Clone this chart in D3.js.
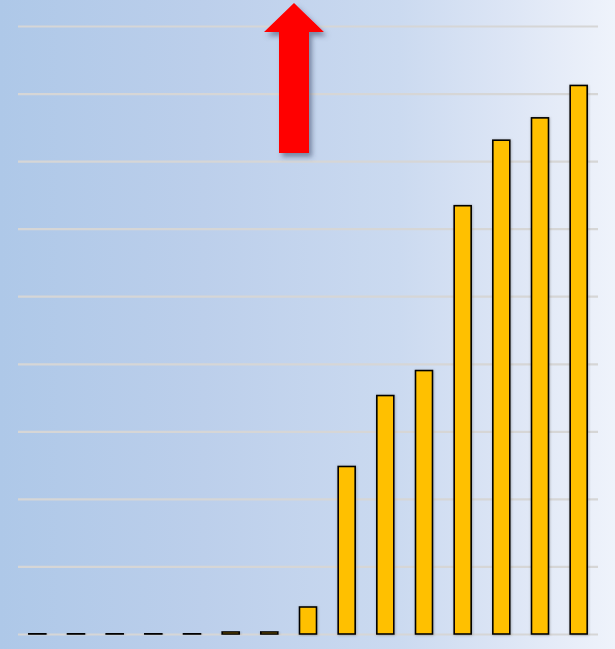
<!DOCTYPE html>
<html>
<head>
<meta charset="utf-8">
<script src="https://cdn.jsdelivr.net/npm/d3@7"></script>
<style>
html,body{margin:0;padding:0;overflow:hidden;}
svg{display:block;}
</style>
</head>
<body>
<script>
// Data (values in grid units; axis labels are hidden in the original)
const categories = ["1","2","3","4","5","6","7","8","9","10","11","12","13","14","15"];
const values = [0.01, 0.01, 0.01, 0.01, 0.01, 0.03, 0.03, 0.40, 2.48, 3.53, 3.90, 6.34, 7.31, 7.64, 8.12];
const yTicks = [0,1,2,3,4,5,6,7,8,9];

const W = 615, H = 649;
const svg = d3.select("body").append("svg").attr("width", W).attr("height", H);
const defs = svg.append("defs");

const bg = defs.append("linearGradient").attr("id","bg").attr("x1","0").attr("x2","1").attr("y1","0").attr("y2","0");
[[0,"#aec8e8"],[0.33,"#bccfeb"],[0.65,"#cbdaf0"],[0.82,"#dce5f5"],[1,"#eff3fb"]].forEach(s=>{
  bg.append("stop").attr("offset",s[0]).attr("stop-color",s[1]);
});
const sh = defs.append("filter").attr("id","shadow").attr("x","-30%").attr("y","-30%").attr("width","160%").attr("height","160%");
sh.append("feDropShadow").attr("dx",3).attr("dy",4).attr("stdDeviation",2.5).attr("flood-color","#3a4a66").attr("flood-opacity",0.55);
const bsh = defs.append("filter").attr("id","bshadow").attr("x","-30%").attr("y","-10%").attr("width","160%").attr("height","120%");
bsh.append("feDropShadow").attr("dx",0.5).attr("dy",0.5).attr("stdDeviation",0.8).attr("flood-color","#555").attr("flood-opacity",0.45);

svg.append("rect").attr("width",W).attr("height",H).attr("fill","url(#bg)");

const x = d3.scaleBand().domain(categories).range([18, 598]).paddingInner(0.56).paddingOuter(0.28);
const y = d3.scaleLinear().domain([0, 9]).range([634, 26]);

// gridlines
const yAxis = d3.axisLeft(y).tickValues(yTicks).tickSize(-(598-18)).tickFormat("");
const gAxis = svg.append("g").attr("transform","translate(18,0)").call(yAxis);
gAxis.select(".domain").remove();
gAxis.selectAll(".tick line").attr("stroke","#d6d6d6").attr("stroke-width",2.2);

// bars
svg.append("g").selectAll("rect").data(values).join("rect")
  .attr("x",(d,i)=>x(categories[i]))
  .attr("width",x.bandwidth())
  .attr("y",d=>y(d))
  .attr("height",d=>y(0)-y(d))
  .attr("fill","#ffc000")
  .attr("stroke","#000")
  .attr("stroke-width",1.6)
  .attr("filter","url(#bshadow)");

// red up arrow (annotation)
const ax = 294, tipY = 3, headY = 32, headHalf = 30, shaftHalf = 15, baseY = 153;
const arrow = d3.path();
arrow.moveTo(ax, tipY);
arrow.lineTo(ax+headHalf, headY);
arrow.lineTo(ax+shaftHalf, headY);
arrow.lineTo(ax+shaftHalf, baseY);
arrow.lineTo(ax-shaftHalf, baseY);
arrow.lineTo(ax-shaftHalf, headY);
arrow.lineTo(ax-headHalf, headY);
arrow.closePath();
svg.append("path").attr("d", arrow.toString()).attr("fill","#ff0000").attr("filter","url(#shadow)");
</script>
</body>
</html>
